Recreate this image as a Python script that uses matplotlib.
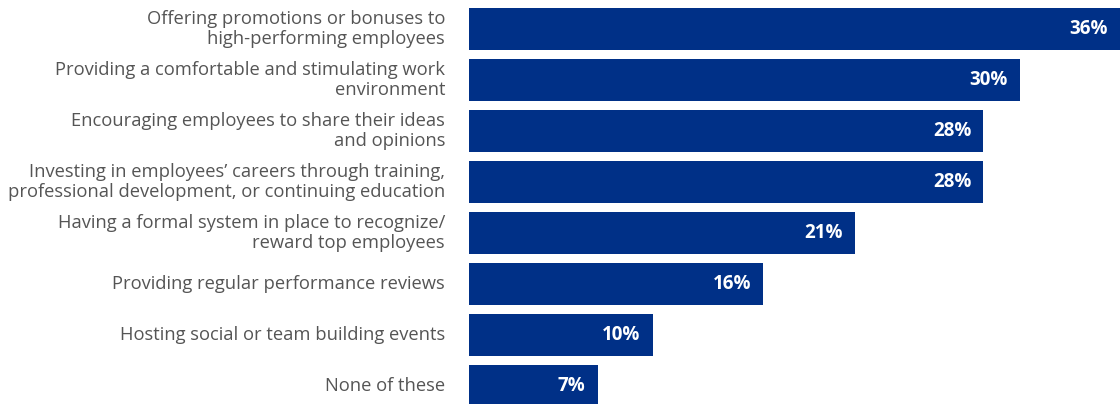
import matplotlib
matplotlib.use('Agg')
import matplotlib.pyplot as plt

# Survey answers and their shares (percent)
labels = [
    'Offering promotions or bonuses to\nhigh-performing employees',
    'Providing a comfortable and stimulating work\nenvironment',
    'Encouraging employees to share their ideas\nand opinions',
    'Investing in employees\u2019 careers through training,\nprofessional development, or continuing education',
    'Having a formal system in place to recognize/\nreward top employees',
    'Providing regular performance reviews',
    'Hosting social or team building events',
    'None of these',
]
values = [36, 30, 28, 28, 21, 16, 10, 7]

bar_color = '#003087'
text_color = '#555555'

W, H = 1120, 404
fig = plt.figure(figsize=(W / 100, H / 100), dpi=100)
ax = fig.add_axes([469 / W, 0, 1 - 469 / W, 1])

pos = list(range(len(values)))
ax.barh(pos, values, height=0.82, color=bar_color, clip_on=True)

# axis limits: 51 px per row, first bar centred 29 px from the top
ax.set_ylim((H - 29) / 51, -29 / 51)
ax.set_xlim(0, (W - 469) / 18.37)
ax.axis('off')

for i, (lab, v) in enumerate(zip(labels, values)):
    ax.annotate(lab, xy=(0, i), xytext=(-24, 0), textcoords='offset pixels',
                ha='right', va='center', fontsize=13.2, color=text_color,
                family='Open Sans', linespacing=1.2, annotation_clip=False)
    ax.annotate('%d%%' % v, xy=(min(v, 35.44), i), xytext=(-12, 0),
                textcoords='offset pixels', ha='right', va='center',
                fontsize=13.5, fontweight='bold', color='white',
                family='Open Sans')

plt.savefig('out.png', dpi=100)
